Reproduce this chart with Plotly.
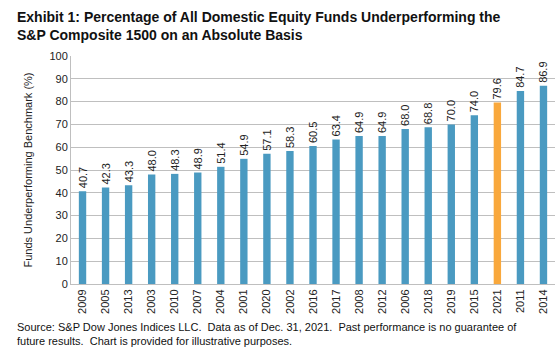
import plotly.graph_objects as go

years = ["2009", "2005", "2013", "2003", "2010", "2007", "2004", "2001", "2020", "2002", "2016",
         "2017", "2008", "2012", "2006", "2018", "2019", "2015", "2021", "2011", "2014"]
values = [40.7, 42.3, 43.3, 48.0, 48.3, 48.9, 51.4, 54.9, 57.1, 58.3, 60.5,
          63.4, 64.9, 64.9, 68.0, 68.8, 70.0, 74.0, 79.6, 84.7, 86.9]
highlight_year = "2021"

blue = "#4A9AC1"
orange = "#F9A83C"
colors = [orange if y == highlight_year else blue for y in years]

fig = go.Figure()
fig.add_trace(go.Bar(
    x=years, y=values,
    marker=dict(color=colors, line=dict(width=0)),
    text=[f"{v:.1f}" for v in values],
    textposition="outside",
    textangle=-90,
    textfont=dict(family="Liberation Sans, Arial", size=11, color="#222"),
    cliponaxis=False,
))

W, H = 559, 350
L, R, T, B = 71, 4, 56, 66
pw = W - L - R
ph = H - T - B

fig.update_layout(
    width=W, height=H,
    margin=dict(l=L, r=R, t=T, b=B),
    paper_bgcolor="white", plot_bgcolor="white",
    font=dict(family="Liberation Sans, Arial", size=11, color="#222"),
    bargap=0.68,
    showlegend=False,
    uniformtext=dict(minsize=11, mode="show"),
    xaxis=dict(
        type="category",
        tickangle=-90,
        showgrid=False,
        showline=True, linecolor="#BFBFBF", linewidth=1,
        ticks="", tickfont=dict(size=11),
    ),
    yaxis=dict(
        range=[0, 100], dtick=10,
        showgrid=True, gridcolor="#BFBFBF", gridwidth=1,
        showline=True, linecolor="#BFBFBF", linewidth=1,
        ticks="", tickfont=dict(size=11),
        title=dict(text="Funds Underperforming Benchmark (%)", font=dict(size=11), standoff=14),
        zeroline=False,
    ),
    annotations=[
        dict(
            text="<b>Exhibit 1: Percentage of All Domestic Equity Funds Underperforming the<br>S&P Composite 1500 on an Absolute Basis</b>",
            xref="paper", yref="paper",
            x=(15 - L) / pw, y=(H - B - 7) / ph,
            xanchor="left", yanchor="top", align="left",
            showarrow=False,
            font=dict(family="Liberation Sans, Arial", size=14, color="#111"),
        ),
        dict(
            text="Source: S&P Dow Jones Indices LLC.  Data as of Dec. 31, 2021.  Past performance is no guarantee of<br>future results.  Chart is provided for illustrative purposes.",
            xref="paper", yref="paper",
            x=(15 - L) / pw, y=(H - B - 319) / ph,
            xanchor="left", yanchor="top", align="left",
            showarrow=False,
            font=dict(family="Liberation Sans, Arial", size=11, color="#111"),
        ),
    ],
)

fig.write_html("out.html")
